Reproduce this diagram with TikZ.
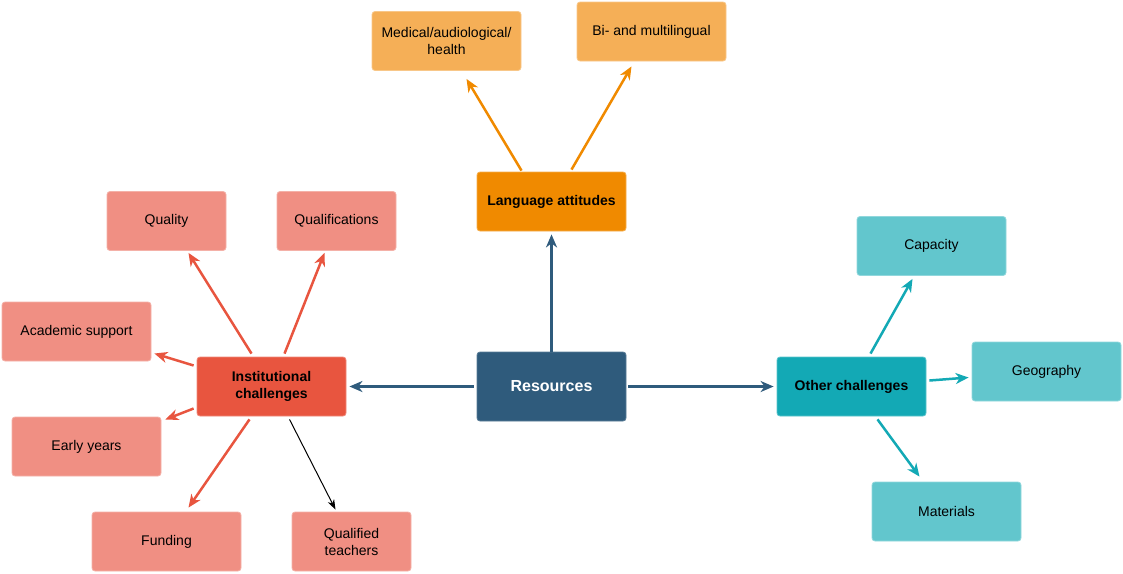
\documentclass[tikz,border=0pt]{standalone}
\usepackage{fontspec}
\setmainfont{Liberation Sans}
\usetikzlibrary{arrows.meta}
\definecolor{resc}{HTML}{2F5B7C}
\definecolor{langc}{HTML}{F08A00}
\definecolor{langl}{HTML}{F5AF57}
\definecolor{instc}{HTML}{E8553F}
\definecolor{instl}{HTML}{F08F83}
\definecolor{othc}{HTML}{13A9B5}
\definecolor{othl}{HTML}{62C6CD}
\tikzset{
  box/.style={rounded corners=3pt, minimum width=149pt, minimum height=59pt, align=center, font=\fontsize{14}{17}\selectfont, inner sep=2pt, line width=0.8pt},
  bigbox/.style={box, font=\fontsize{14}{17}\selectfont\bfseries},
  arr/.style={line width=2.5pt, -{Stealth[length=13pt,width=11pt,inset=4pt]}},
  thinarr/.style={line width=1pt, black, -{Stealth[length=10pt,width=7pt,inset=3pt]}},
}
\begin{document}
\begin{tikzpicture}[x=1pt,y=-1pt]
\useasboundingbox (0,0) rectangle (1123,573);
% main nodes
\node[bigbox, fill=resc, draw=resc!80!white, text=white, minimum height=69pt, font=\fontsize{16}{19}\selectfont\bfseries] (res) at (551.5,386.5) {Resources};
\node[bigbox, fill=langc, draw=langc!70!white] (lang) at (551.5,201.5) {Language attitudes};
\node[bigbox, fill=instc, draw=instc!70!white] (inst) at (271.5,386.5) {Institutional\\challenges};
\node[bigbox, fill=othc, draw=othc!70!white] (oth) at (851.5,386.5) {Other challenges};
% language children
\node[box, fill=langl, draw=langl!70!white] (med) at (446.5,41) {Medical/audiological/\\health};
\node[box, fill=langl, draw=langl!70!white] (bi) at (651.5,31.5) {Bi- and multilingual};
% institutional children
\node[box, fill=instl, draw=instl!70!white, minimum width=119pt] (qual) at (166.5,221) {Quality};
\node[box, fill=instl, draw=instl!70!white, minimum width=119pt] (qlf) at (336.5,221) {Qualifications};
\node[box, fill=instl, draw=instl!70!white] (acad) at (76.5,331.5) {Academic support};
\node[box, fill=instl, draw=instl!70!white] (early) at (86.5,446.5) {Early years};
\node[box, fill=instl, draw=instl!70!white] (fund) at (166.5,541.5) {Funding};
\node[box, fill=instl, draw=instl!70!white, minimum width=119pt] (qt) at (351.5,541.5) {Qualified\\teachers};
% other children
\node[box, fill=othl, draw=othl!70!white] (cap) at (931.5,246) {Capacity};
\node[box, fill=othl, draw=othl!70!white] (geo) at (1046.5,371.5) {Geography};
\node[box, fill=othl, draw=othl!70!white] (mat) at (946.5,511.5) {Materials};
% connectors
\draw[arr, resc] (res.north) -- ([shift={(0,3)}]lang.south);
\draw[arr, resc] ([shift={(-3,0)}]res.west) -- ([shift={(3,0)}]inst.east);
\draw[arr, resc] ([shift={(2,0)}]res.east) -- ([shift={(-3,0)}]oth.west);
\draw[arr, langc] ([shift={(-30,-1)}]lang.north) -- ([shift={(20,8)}]med.south);
\draw[arr, langc] ([shift={(20,-2)}]lang.north) -- ([shift={(-20,5)}]bi.south);
\draw[arr, instc] ([shift={(-20,-3)}]inst.north) -- ([shift={(22,2)}]qual.south);
\draw[arr, instc] ([shift={(13,-3)}]inst.north) -- ([shift={(-12,2)}]qlf.south);
\draw[arr, instc] ([shift={(-3,-21)}]inst.west) -- ([shift={(3,22)}]acad.east);
\draw[arr, instc] ([shift={(-3,22)}]inst.west) -- ([shift={(4,-27)}]early.east);
\draw[arr, instc] ([shift={(-22,3)}]inst.south) -- ([shift={(22,-4)}]fund.north);
\draw[thinarr] ([shift={(18,3)}]inst.south) -- ([shift={(-16,-2)}]qt.north);
\draw[arr, othc] ([shift={(19,-3)}]oth.north) -- ([shift={(-19,3)}]cap.south);
\draw[arr, othc] ([shift={(3,-6)}]oth.east) -- ([shift={(-3,6)}]geo.west);
\draw[arr, othc] ([shift={(26,3)}]oth.south) -- ([shift={(-27,-5)}]mat.north);
\end{tikzpicture}
\end{document}
